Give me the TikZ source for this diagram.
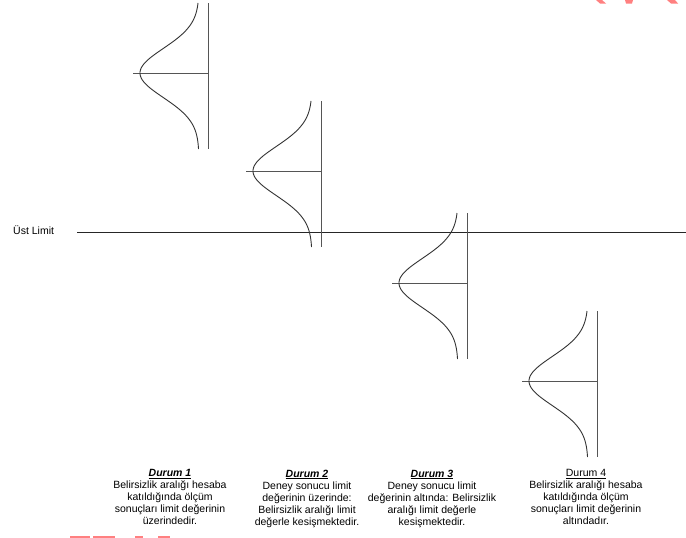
\documentclass[tikz,border=0pt]{standalone}
\usepackage{fontspec}
\setmainfont{Liberation Sans}
\definecolor{lgray}{HTML}{555555}
\definecolor{curvecol}{HTML}{333333}
\definecolor{wmred}{HTML}{FF8080}
\tikzset{
  axisline/.style={draw=lgray, line width=0.9pt},
  bell/.style={draw=curvecol, line width=0.9pt},
  limitline/.style={draw=black!85, line width=0.9pt},
  caption/.style={align=center, inner sep=0pt, anchor=north, font=\fontsize{10.5}{12}\selectfont},
  wmfrag/.style={fill=wmred, draw=none}
}
\newcommand{\bellcurve}[3]{% #1 = x of vertical line, #2 = y centre, #3 = name
  \coordinate (#3top) at (#1,#2-70);
  \coordinate (#3bot) at (#1,#2+76);
  \coordinate (#3c) at (#1,#2);
  \coordinate (#3p) at (#1-75,#2);
  \draw[axisline] (#3top) -- (#3bot);
  \draw[axisline] (#3p) -- (#3c);
  \draw[bell] plot[domain=-70:76, samples=90, smooth] ({#1-9-59*exp(-((\x/24.5)^2)/2)}, {#2+\x});
}
\begin{document}
\begin{tikzpicture}[x=1pt,y=-1pt]
\useasboundingbox[fill=white] (0,0) rectangle (686,538);
% limit line
\node[anchor=base west, inner sep=0pt, font=\fontsize{10.5}{12}\selectfont] (lim) at (13,234) {Üst Limit};
\coordinate (limA) at (77,232);
\coordinate (limB) at (686,232);
\draw[limitline] (limA) -- (limB);
% curves
\bellcurve{208}{73}{c1}
\bellcurve{321}{171}{c2}
\bellcurve{467}{283}{c3}
\bellcurve{597}{381}{c4}
% captions
\node[caption] (d1) at (170,469.5) {\underline{\textbf{\textit{Durum 1}}}\\Belirsizlik aralığı hesaba\\katıldığında ölçüm\\sonuçları limit değerinin\\üzerindedir.};
\node[caption] (d2) at (307,469.5) {\underline{\textbf{\textit{Durum 2}}}\\Deney sonucu limit\\değerinin üzerinde:\\Belirsizlik aralığı limit\\değerle kesişmektedir.};
\node[caption] (d3) at (432,469.5) {\underline{\textbf{\textit{Durum 3}}}\\Deney sonucu limit\\değerinin altında: Belirsizlik\\aralığı limit değerle\\kesişmektedir.};
\node[caption] (d4) at (586,469.5) {\underline{Durum 4}\\Belirsizlik aralığı hesaba\\katıldığında ölçüm\\sonuçları limit değerinin\\altındadır.};
% watermark fragments
\fill[wmfrag] (596,0) -- (602,0) -- (606,3.5) -- (600,3.5) -- cycle;
\fill[wmfrag] (625,0) -- (633,0) -- (632,3.5) -- (626,3.5) -- cycle;
\fill[wmfrag] (667,0) -- (675,0) -- (678,3.5) -- (671,3.5) -- cycle;
\fill[wmfrag] (70,535.5) rectangle (90,538);
\fill[wmfrag] (93,535.5) rectangle (115,538);
\fill[wmfrag] (135,535.5) rectangle (143,538);
\fill[wmfrag] (158,535.5) rectangle (170,538);
\end{tikzpicture}
\end{document}
